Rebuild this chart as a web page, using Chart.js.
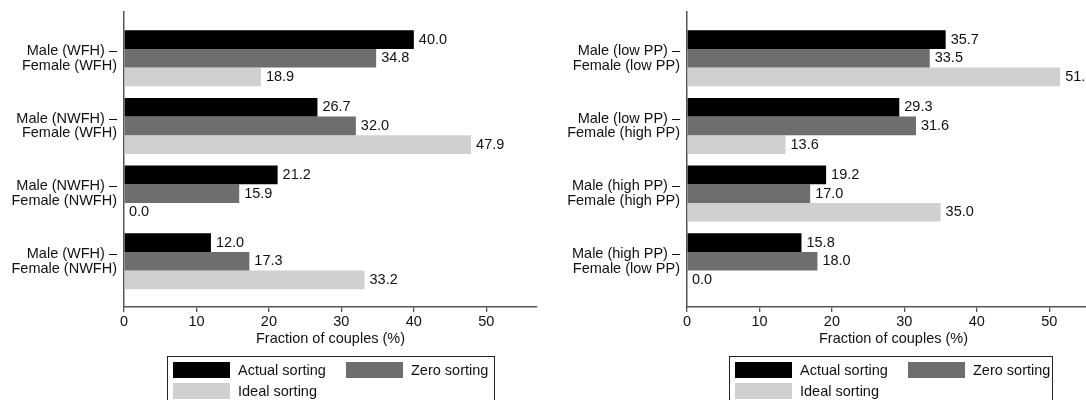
<!DOCTYPE html>
<html>
<head>
<meta charset="utf-8">
<script src="https://cdn.jsdelivr.net/npm/chart.js@4.4.1/dist/chart.umd.min.js"></script>
<style>
  body { margin: 0; width: 1086px; height: 400px; overflow: hidden; background: #fff; position: relative;
         font-family: "Liberation Sans", Arial, sans-serif; }
  .panel { position: absolute; top: 0; width: 563px; height: 400px; }
  .legend { position: absolute; top: 356px; height: 60px; border: 1px solid #222; box-sizing: border-box;
            font-size: 14.5px; color: #111; }
  .item { position: absolute; height: 16px; line-height: 16px; white-space: nowrap; }
  .sw { position: absolute; left: 0; top: 0; width: 57px; height: 16px; }
</style>
</head>
<body>
<div class="panel" id="leftPanel" style="left:0px"><canvas id="wfhChart" width="563" height="400"></canvas></div>
<div class="panel" id="rightPanel" style="left:563px"><canvas id="ppChart" width="563" height="400"></canvas></div>
<script>
// left panel: work from home
const wfhLabels = [
  ['Male (WFH) –', 'Female (WFH)'],
  ['Male (NWFH) –', 'Female (WFH)'],
  ['Male (NWFH) –', 'Female (NWFH)'],
  ['Male (WFH) –', 'Female (NWFH)']
];
const wfhActual = [40.0, 26.7, 21.2, 12.0];
const wfhZero = [34.8, 32.0, 15.9, 17.3];
const wfhIdeal = [18.9, 47.9, 0.0, 33.2];

// right panel: potential productivity
const ppLabels = [
  ['Male (low PP) –', 'Female (low PP)'],
  ['Male (low PP) –', 'Female (high PP)'],
  ['Male (high PP) –', 'Female (high PP)'],
  ['Male (high PP) –', 'Female (low PP)']
];
const ppActual = [35.7, 29.3, 19.2, 15.8];
const ppZero = [33.5, 31.6, 17.0, 18.0];
const ppIdeal = [51.5, 13.6, 35.0, 0.0];

const seriesNames = ['Actual sorting', 'Zero sorting', 'Ideal sorting'];
const seriesColors = ['#000000', '#6e6e6e', '#d0d0d0'];
const xTitle = 'Fraction of couples (%)';

const FONT = '"Liberation Sans", Arial, sans-serif';
const axisColor = '#555';

// numbers at the end of each bar
const valueLabels = {
  id: 'valueLabels',
  afterDatasetsDraw(chart) {
    const ctx = chart.ctx;
    ctx.save();
    ctx.font = '14.5px ' + FONT;
    ctx.fillStyle = '#111';
    ctx.textBaseline = 'middle';
    ctx.textAlign = 'left';
    chart.data.datasets.forEach((ds, i) => {
      chart.getDatasetMeta(i).data.forEach((bar, j) => {
        ctx.fillText(ds.data[j].x.toFixed(1), bar.x + 5, bar.y);
      });
    });
    ctx.restore();
  }
};

function makeChart(canvasId, labels, series) {
  const ctx = document.getElementById(canvasId).getContext('2d');
  return new Chart(ctx, {
    type: 'bar',
    data: {
      datasets: series.map((vals, i) => ({
        label: seriesNames[i],
        data: vals.map((v, j) => ({ x: v, y: j })),
        backgroundColor: seriesColors[i],
        borderWidth: 0,
        categoryPercentage: 0.8276,
        barPercentage: 1
      }))
    },
    options: {
      indexAxis: 'y',
      responsive: false,
      animation: false,
      layout: { padding: { top: 12, right: 26, bottom: 52, left: 0 } },
      plugins: { legend: { display: false }, tooltip: { enabled: false } },
      scales: {
        y: {
          type: 'linear',
          reverse: true,
          offset: false,
          min: -0.684,
          max: 3.676,
          afterFit: s => { s.width = 124; s.paddingTop = 0; s.paddingBottom = 0; },
          afterBuildTicks: s => { s.ticks = labels.map((l, i) => ({ value: i })); },
          ticks: {
            padding: 7,
            color: '#111',
            font: { family: FONT, size: 14.5, lineHeight: 1.0 },
            callback: v => labels[v]
          },
          grid: { display: false, drawTicks: false, offset: false },
          border: { display: true, color: axisColor, width: 1.5 }
        },
        x: {
          type: 'linear',
          min: 0,
          max: 57,
          afterFit: s => { s.height = 41; },
          ticks: {
            stepSize: 10,
            includeBounds: false,
            padding: 1,
            maxRotation: 0,
            color: '#111',
            font: { family: FONT, size: 14.5 }
          },
          grid: { display: true, drawOnChartArea: false, drawTicks: true, tickLength: 5, color: axisColor, lineWidth: 1.3 },
          border: { display: true, color: axisColor, width: 1.5 },
          title: {
            display: true,
            text: xTitle,
            color: '#111',
            padding: 0,
            font: { family: FONT, size: 14.5 }
          }
        }
      }
    },
    plugins: [valueLabels]
  });
}

function makeLegend(panelId, left, width) {
  const box = document.createElement('div');
  box.className = 'legend';
  box.style.left = left + 'px';
  box.style.width = width + 'px';
  const colLeft = [5, 178];
  const rowTop = [5, 26];
  seriesNames.forEach((name, i) => {
    const item = document.createElement('div');
    item.className = 'item';
    item.style.left = colLeft[i % 2] + 'px';
    item.style.top = rowTop[Math.floor(i / 2)] + 'px';
    item.style.paddingLeft = '65px';
    const sw = document.createElement('div');
    sw.className = 'sw';
    sw.style.background = seriesColors[i];
    item.appendChild(sw);
    item.appendChild(document.createTextNode(name));
    box.appendChild(item);
  });
  document.getElementById(panelId).appendChild(box);
}

makeChart('wfhChart', wfhLabels, [wfhActual, wfhZero, wfhIdeal]);
makeChart('ppChart', ppLabels, [ppActual, ppZero, ppIdeal]);
makeLegend('leftPanel', 167, 328);
makeLegend('rightPanel', 166, 324);
</script>
</body>
</html>
